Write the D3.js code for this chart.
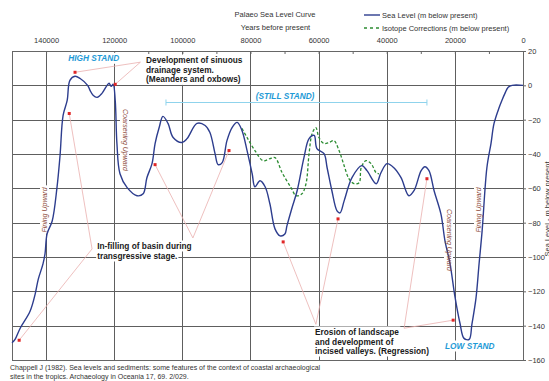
<!DOCTYPE html>
<html><head><meta charset="utf-8">
<script src="https://cdn.jsdelivr.net/npm/d3@7"></script>
<style>body{margin:0;background:#fff} svg{display:block;font-family:"Liberation Sans",Arial,sans-serif}</style>
</head><body>
<svg id="c" width="549" height="381"></svg>
<script>
// ---- data (years before present, metres relative to present) ----
const seaYears = [150000,149100,147600,144700,143200,142300,140900,140300,139700,138200,136800,135900,135000,133800,133000,131500,130000,127800,127100,126200,125000,123600,122100,121500,120900,120300,119700,119200,118300,116200,113300,111500,110400,108900,108000,106800,105700,104200,102700,100100,98600,95700,93300,91900,90400,89500,88300,86900,85400,83900,82500,81000,79500,78700,77200,75700,74300,72800,71300,69900,69300,67800,66300,64300,62800,61300,60500,58400,57500,56100,54600,53700,52500,50200,47300,45800,43100,41700,39900,37900,35800,33500,32000,29900,28800,27600,26100,24100,22900,21400,20000,18500,17300,15800,15000,13800,12900,12000,10600,9400,8500,7000,6200,5300,4400,3200,0];
const seaLevels = [-150,-148,-141.5,-131.6,-121.6,-113,-104,-98,-86.5,-79,-59.6,-41,-17.5,-8.8,2.9,5.3,4,0,-2.9,-5.8,-7,-4.7,0,1.2,-0.6,0.6,-8.8,-33.9,-51.5,-59.6,-64.3,-63.2,-53.8,-45.6,-33.9,-24.6,-18.1,-22.2,-30.4,-33.3,-31,-22.2,-23.4,-27.5,-39.8,-46.2,-45,-32.2,-24.6,-21.6,-26.3,-38,-51.5,-59.1,-55.6,-59.1,-69,-83.6,-87.7,-86.6,-81.9,-71.3,-61.4,-42.1,-31,-29.2,-36.8,-39.8,-48,-61.4,-73.1,-74.3,-67.3,-53.8,-46.8,-49.7,-57.3,-50.9,-45.6,-48,-53.8,-64.3,-61.4,-49.7,-47.4,-49.7,-61.4,-74.9,-90.6,-104.1,-122.8,-138.6,-147.4,-148,-139.2,-124,-104.1,-84.8,-48,-33.9,-22.2,-12.9,-8.8,-4.7,-1.2,0,0];
const isoYears = [82500,81000,78700,76300,74300,72800,70700,68100,66600,64900,63700,62800,61900,60800,59900,58400,56900,55500,54000,52500,51100,49600,48100,47500,46100,44600,43100,42300];
const isoLevels = [-25.1,-30.4,-38,-43.9,-42.7,-42.1,-50.9,-59.6,-64.3,-63.2,-57.3,-39.8,-28.1,-24.6,-30.4,-33.9,-33.3,-32.2,-38,-46.8,-54.4,-57.3,-56.7,-48,-43.9,-45.6,-50.9,-51.5];
const yearTicks = [140000,120000,100000,80000,60000,40000,20000,0];
const levelTicks = [20,0,-20,-40,-60,-80,-100,-120,-140,-160];
const titleLines = ["Palaeo Sea Level Curve","Years before present"];
const legendLabels = ["Sea Level (m below present)","Isotope Corrections (m below present)"];
const yAxisTitle = "Sea Level - m below present";
const sourceLines = ["Chappell J (1982). Sea levels and sediments: some features of the context of coastal archaeological","sites in the tropics. Archaeology in Oceania 17, 69. 2/029."];

// annotation leaders: [dotA, junction, dotB] in [year, m]
const leaders = [
  [[131500,7.6],[112300,13.5],[119700,0.6]],
  [[133200,-16.4],[126500,-95.3],[147900,-148.5]],
  [[108000,-46.2],[96900,-88.9],[86300,-38]],
  [[70400,-91.2],[60800,-139.2],[54300,-77.8]],
  [[28200,-54.4],[34900,-141.5],[20500,-136.8]]
];
const stillStand = {from:104800, to:28200, level:-10};

// ---- drawing ----
const x = d3.scaleLinear().domain([150000,0]).range([12,523]);
const y = d3.scaleLinear().domain([20,-160]).range([51,360]);
const svg = d3.select("#c");
const FS = 7.5;
const AF = 8.3;
const gridC = "#5e5e5e";

// grid
const grid = svg.append("g").attr("shape-rendering","crispEdges");
grid.selectAll("line.v").data(yearTicks.filter(d=>d>0)).join("line")
  .attr("x1",d=>Math.round(x(d))+0.5).attr("x2",d=>Math.round(x(d))+0.5)
  .attr("y1",y(20)).attr("y2",y(-160)).attr("stroke",gridC).attr("stroke-width",1);
grid.selectAll("line.h").data(levelTicks.filter(d=>d<20&&d>-160)).join("line")
  .attr("y1",d=>Math.round(y(d))+0.5).attr("y2",d=>Math.round(y(d))+0.5)
  .attr("x1",x(150000)).attr("x2",x(0)).attr("stroke",gridC).attr("stroke-width",1);
grid.append("rect").attr("x",Math.round(x(150000))+0.5).attr("y",Math.round(y(20))+0.5)
  .attr("width",Math.round(x(0))-Math.round(x(150000))).attr("height",Math.round(y(-160))-Math.round(y(20)))
  .attr("fill","none").attr("stroke","#666");

// axes
const topAxis = svg.append("g").attr("transform",`translate(0,${y(20)})`)
  .call(d3.axisTop(x).tickValues(yearTicks).tickFormat(d3.format("d")).tickSize(0).tickPadding(8));
topAxis.select(".domain").remove();
topAxis.selectAll("text").attr("font-size",FS).attr("fill","#333").attr("font-family","Liberation Sans, Arial, sans-serif");
const minor = svg.append("g").attr("transform",`translate(0,${y(20)})`)
  .call(d3.axisBottom(x).tickValues(d3.range(150000,-1,-10000)).tickFormat("").tickSize(3));
minor.select(".domain").remove();
minor.selectAll("line").attr("stroke","#666");
const rightAxis = svg.append("g").attr("transform",`translate(${x(0)},0)`)
  .call(d3.axisRight(y).tickValues(levelTicks).tickSize(3).tickPadding(2));
rightAxis.select(".domain").attr("stroke","#666");
rightAxis.selectAll("line").attr("stroke","#666");
rightAxis.selectAll("text").attr("font-size",FS).attr("fill","#333").attr("font-family","Liberation Sans, Arial, sans-serif");

// layers
const bgLayer = svg.append("g");
const markLayer = svg.append("g");
const textLayer = svg.append("g");

function label(txt, px, py, opts){
  const g = textLayer.append("g").attr("transform",`translate(${px},${py})${opts.rot?` rotate(${opts.rot})`:""}`);
  const t = g.append("text").text(txt).attr("font-size",opts.size||AF)
    .attr("font-weight",opts.bold?"bold":"normal").attr("font-style",opts.italic?"italic":"normal")
    .attr("fill",opts.color||"#1a1a1a").attr("text-anchor",opts.anchor||"start");
  if(opts.central) t.attr("dominant-baseline","central");
  if(opts.bg!==false){
    const b = t.node().getBBox();
    bgLayer.append("rect").attr("transform",g.attr("transform"))
      .attr("x",b.x-1).attr("y",b.y-0.5).attr("width",b.width+2).attr("height",b.height+1).attr("fill","#fff");
  }
}

// still stand bracket
const ssY = y(stillStand.level);
markLayer.append("line").attr("x1",x(stillStand.from)).attr("x2",x(stillStand.to)).attr("y1",ssY).attr("y2",ssY)
  .attr("stroke","#8fd3ec").attr("stroke-width",1);
[stillStand.from, stillStand.to].forEach(d=>markLayer.append("line").attr("x1",x(d)).attr("x2",x(d))
  .attr("y1",ssY-3).attr("y2",ssY+3).attr("stroke","#8fd3ec").attr("stroke-width",1));

// curves
const line = d3.line().x(d=>x(d[0])).y(d=>y(d[1])).curve(d3.curveCatmullRom.alpha(0.5));
markLayer.append("path").datum(isoYears.map((d,i)=>[d,isoLevels[i]])).attr("d",line)
  .attr("fill","none").attr("stroke","#2c8c32").attr("stroke-width",1.3).attr("stroke-dasharray","3,2");
markLayer.append("path").datum(seaYears.map((d,i)=>[d,seaLevels[i]])).attr("d",line)
  .attr("fill","none").attr("stroke","#2d3d8e").attr("stroke-width",1.4);

// leaders + dots
leaders.forEach(l=>{
  markLayer.append("path").attr("d",d3.line().x(d=>x(d[0])).y(d=>y(d[1]))(l))
    .attr("fill","none").attr("stroke","#eab0ae").attr("stroke-width",0.8);
  [l[0],l[2]].forEach(p=>markLayer.append("rect").attr("x",x(p[0])-1.5).attr("y",y(p[1])-1.5)
    .attr("width",3).attr("height",3).attr("fill","#e02626"));
});

// titles + legend
label(titleLines[0],275,17,{size:FS,anchor:"middle",color:"#333",bg:false});
label(titleLines[1],275.5,30,{size:FS,anchor:"middle",color:"#333",bg:false});
svg.append("line").attr("x1",364).attr("x2",380).attr("y1",15).attr("y2",15).attr("stroke","#2d3d8e").attr("stroke-width",1.4);
svg.append("line").attr("x1",364).attr("x2",380).attr("y1",28).attr("y2",28).attr("stroke","#2c8c32").attr("stroke-width",1.3).attr("stroke-dasharray","3,3");
label(legendLabels[0],382,18,{size:FS,color:"#333",bg:false});
label(legendLabels[1],382,31,{size:FS,color:"#333",bg:false});

// annotation text
const blue="#1e9ad6", brown="#8c4a3a";
label("HIGH STAND", x(133500), y(14), {bold:true,italic:true,color:blue});
["Development of sinuous","drainage system.","(Meanders and oxbows)"].forEach((s,i)=>
  label(s, x(110650), 63+i*9.7, {bold:true}));
label("(STILL STAND)", x(69850), y(-8.2), {bold:true,italic:true,color:blue,anchor:"middle"});
["In-filling of basin during","transgressive stage."].forEach((s,i)=>label(s, x(125000), 249+i*10, {bold:true}));
["Erosion of landscape","and development of","incised valleys. (Regression)"].forEach((s,i)=>label(s, x(61050), 335+i*9.5, {bold:true}));
label("LOW STAND", x(22900), 349, {bold:true,italic:true,color:blue});
label("Coarsening Upward",125,140,{size:7,italic:true,color:brown,anchor:"middle",central:true,rot:90});
label("Fining Upward",44,210,{size:7,italic:true,color:brown,anchor:"middle",central:true,rot:-90});
label("Coarsening Upward",449,240,{size:7,italic:true,color:brown,anchor:"middle",central:true,rot:90});
label("Fining Upward",478,210,{size:7,italic:true,color:brown,anchor:"middle",central:true,rot:-90});
label(yAxisTitle,550,209,{size:FS,color:"#333",anchor:"middle",rot:-90,bg:false});

// source
sourceLines.forEach((s,i)=>label(s,10,369.5+i*9.5,{size:7,color:"#333",bg:false}));
</script>
</body></html>
